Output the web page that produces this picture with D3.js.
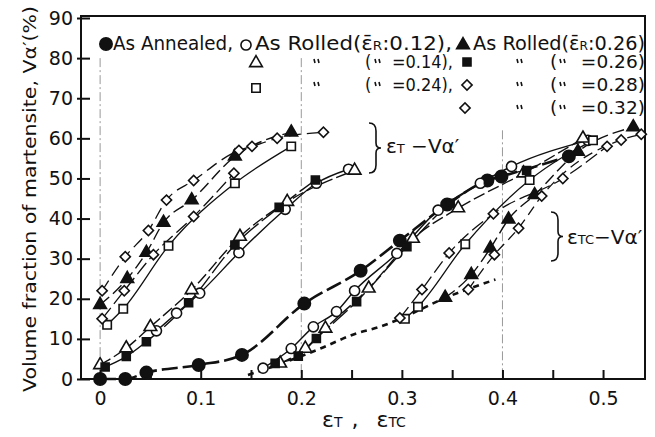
<!DOCTYPE html>
<meta charset="utf-8">
<style>
  body { margin: 0; background: #fff; }
  text { font-family: "DejaVu Sans", sans-serif; fill: #111; }
</style>
<body>
<script src="https://d3js.org/d3.v7.min.js"></script>
<script>

// ---- data (strain, volume %) ----
var annealed   = [[0,0],[0.025,0],[0.046,1.6],[0.098,3.5],[0.141,6],[0.203,18.8],[0.259,27],[0.298,34.5],[0.345,43.5],[0.385,49.5],[0.399,50.5],[0.466,55.5]];

// eps_T curves
var r12T   = [[0.056,12],[0.076,16.4],[0.099,21.4],[0.138,31.5],[0.184,42.3],[0.215,48.8],[0.247,52.3]];
var r14T   = [[0,3.5],[0.026,7.7],[0.05,13],[0.091,22.2],[0.139,35.5],[0.186,44.2],[0.253,52]];
var r26sqT = [[0.005,3],[0.026,5.6],[0.046,9.3],[0.088,19],[0.134,33.4],[0.178,42.8],[0.214,49.6]];
var r26trT = [[0,18.5],[0.027,25],[0.046,31.5],[0.063,39],[0.091,44.6],[0.134,55.5],[0.19,61.5]];
var r24T   = [[0.007,13.5],[0.023,17.5],[0.068,33.2],[0.134,48.8],[0.19,58]];
var r28T   = [[0.002,15],[0.024,22],[0.053,31],[0.093,40.5],[0.133,51.3]];
var r32T   = [[0.002,22],[0.025,30.5],[0.048,37],[0.066,44.6],[0.093,49.5],[0.138,57],[0.151,58],[0.176,60],[0.222,61.5]];

// eps_TC curves
var r12TC   = [[0.162,2.7],[0.19,7.6],[0.212,13],[0.235,16.8],[0.253,22],[0.295,31.3],[0.336,42.1],[0.378,48.8],[0.409,53],[0.485,59.5]];
var r14TC   = [[0.179,3.9],[0.204,7.6],[0.224,12.6],[0.267,22.6],[0.311,35],[0.356,42.6],[0.421,51.3],[0.48,60]];
var r26sqTC = [[0.174,3.9],[0.197,5.7],[0.215,10.1],[0.255,19.3],[0.305,33],[0.348,43.8],[0.386,49.6],[0.424,52]];
var r24TC   = [[0.303,15],[0.316,18],[0.363,33.6],[0.427,49.6],[0.49,59.5]];
var r28TC   = [[0.298,15.2],[0.32,22.3],[0.347,31.4],[0.391,41.2],[0.46,50],[0.504,58]];
var r26trTC = [[0.343,20.3],[0.369,26],[0.388,32.6],[0.406,39.8],[0.432,45.9],[0.475,56.7],[0.53,62.8]];
var r32TC   = [[0.366,22.3],[0.392,31],[0.416,37.6],[0.439,45.6],[0.518,59.6],[0.538,61]];
var startLine = [[0.147,1],[0.199,5.6],[0.219,7.6],[0.255,11.4],[0.278,13],[0.3,15.2],[0.343,20.2],[0.393,24.8]];

var yTicks = [0,10,20,30,40,50,60,70,80,90];
var xTicks = [0,0.05,0.1,0.15,0.2,0.25,0.3,0.35,0.4,0.45,0.5];
var gridX = [0, 0.2, 0.4];

// ---- layout ----
var W = 655, H = 437;
var x = d3.scaleLinear().domain([-0.019, 0.5417]).range([81, 645]);
var y = d3.scaleLinear().domain([0, 90.5]).range([379, 16]);

var svg = d3.select("body").append("svg")
    .attr("width", W).attr("height", H);

// faint dash-dot verticals
svg.selectAll(".grid").data(gridX).enter().append("line")
    .attr("x1", d => x(d)).attr("x2", d => x(d))
    .attr("y1", d => d == 0.4 ? y(62) : y(80)).attr("y2", y(0))
    .attr("stroke", "#999").attr("stroke-width", 1)
    .attr("stroke-dasharray", "9,3,2,3");

// frame
svg.append("rect")
    .attr("x", 81).attr("y", 16).attr("width", 564).attr("height", 363)
    .attr("fill", "none").attr("stroke", "#111").attr("stroke-width", 2);

// axes
var yAxis = svg.append("g").attr("transform", "translate(81,0)")
    .call(d3.axisLeft(y).tickValues(yTicks).tickSizeInner(-9).tickSizeOuter(0).tickPadding(8));
var xAxis = svg.append("g").attr("transform", "translate(0,379)")
    .call(d3.axisBottom(x).tickValues(xTicks).tickSizeInner(-9).tickSizeOuter(0).tickPadding(13)
      .tickFormat(d => { var s = d3.format(".1f")(d); return Math.round(d * 100) % 10 == 0 ? (d == 0 ? "0" : s) : ""; }));
[yAxis, xAxis].forEach(g => {
  g.select(".domain").remove();
  g.selectAll(".tick line").attr("stroke", "#111").attr("stroke-width", 2);
  g.selectAll(".tick text").style("font-size", "19px").attr("fill", "#111");
});
yAxis.selectAll(".tick line").attr("x1", -4);

// y label
svg.append("text")
    .attr("transform", "translate(29,199) rotate(-90)")
    .attr("text-anchor", "middle").attr("dominant-baseline", "central")
    .attr("textLength", 386).attr("lengthAdjust", "spacingAndGlyphs")
    .style("font-size", "18px")
    .text("Volume fraction of martensite, Vα′(%)");

// x label
var xl = svg.append("text").attr("x", 322).attr("y", 427).style("font-size", "22px");
xl.append("tspan").text("ε");
xl.append("tspan").style("font-size", "14px").text("T");
xl.append("tspan").attr("dx", 9).text(",");
xl.append("tspan").attr("dx", 18).text("ε");
xl.append("tspan").style("font-size", "14px").text("TC");

// ---- series ----
var line = d3.line().x(d => x(d[0])).y(d => y(d[1])).curve(d3.curveMonotoneX);

var series = [
  {d: startLine, m: null, w: 2.6, dash: "6,5"},
  {d: annealed,  m: "fcircle", w: 2.6, dash: "16,5"},
  {d: r12T,   m: "circle",  w: 1.4, dash: null},
  {d: r14T,   m: "tri",     w: 1.4, dash: "12,4"},
  {d: r26sqT, m: "fsquare", w: 1.4, dash: "20,4"},
  {d: r26trT, m: "ftri",    w: 1.4, dash: "12,5"},
  {d: r24T,   m: "square",  w: 1.3, dash: null},
  {d: r28T,   m: "diamond", w: 1.3, dash: "14,5"},
  {d: r32T,   m: "diamond", w: 1.3, dash: "12,6"},
  {d: r12TC,   m: "circle",  w: 1.4, dash: null},
  {d: r14TC,   m: "tri",     w: 1.4, dash: "12,4"},
  {d: r26sqTC, m: "fsquare", w: 1.4, dash: "20,4"},
  {d: r24TC,   m: "square",  w: 1.3, dash: null},
  {d: r28TC,   m: "diamond", w: 1.3, dash: "14,5"},
  {d: r26trTC, m: "ftri",    w: 1.4, dash: "12,5"},
  {d: r32TC,   m: "diamond", w: 1.3, dash: "10,6"}
];

svg.selectAll(".curve").data(series).enter().append("path")
    .attr("d", s => line(s.d))
    .attr("fill", "none").attr("stroke", "#111")
    .attr("stroke-width", s => s.w)
    .attr("stroke-dasharray", s => s.dash);

function marker(g, type, px, py) {
  var filled = type.charAt(0) == "f";
  var base = filled ? type.slice(1) : type;
  var sym, size, rot = 0;
  if (base == "circle") { sym = d3.symbolCircle; size = filled ? 120 : 80; }
  else if (base == "tri") { sym = d3.symbolTriangle; size = 70; }
  else if (base == "square") { sym = d3.symbolSquare; size = filled ? 64 : 70; }
  else { sym = d3.symbolSquare; size = 52; rot = 45; }
  g.append("path")
    .attr("d", d3.symbol().type(sym).size(size)())
    .attr("transform", "translate(" + px + "," + py + ") rotate(" + rot + ")")
    .attr("fill", filled ? "#111" : "#fff")
    .attr("stroke", "#111").attr("stroke-width", 1.6);
}

var mg = svg.append("g");
series.forEach(s => {
  if (!s.m) return;
  s.d.forEach(p => marker(mg, s.m, x(p[0]), y(p[1])));
});

// ---- legend ----
var legendText = [
  {x: 113, y: 50, len: 120, parts: ["As Annealed,"]},
  {x: 255, y: 50, len: 197, parts: ["As Rolled(", "ε̄", "R", ":0.12),"]},
  {x: 473, y: 50, len: 172, parts: ["As Rolled(", "ε̄", "R", ":0.26)"]},
  {x: 365, y: 68, len: 88, parts: ["(    =0.14),"]},
  {x: 550, y: 68, len: 95, parts: ["(    =0.26)"]},
  {x: 365, y: 91, len: 88, parts: ["(    =0.24),"]},
  {x: 550, y: 91, len: 95, parts: ["(    =0.28)"]},
  {x: 550, y: 114, len: 95, parts: ["(    =0.32)"]}
];
legendText.forEach(t => {
  var el = svg.append("text").attr("x", t.x).attr("y", t.y)
      .style("font-size", t.y == 50 ? "19px" : "17px")
      .style("white-space", "pre")
      .attr("textLength", t.len).attr("lengthAdjust", "spacingAndGlyphs");
  t.parts.forEach((p, i) => {
    var ts = el.append("tspan").text(p);
    if (i == 2) ts.style("font-size", "12px");
  });
});
var legendMarks = [
  ["fcircle", 106, 44], ["circle", 246, 45], ["ftri", 463, 45],
  ["tri", 256, 63], ["fsquare", 467, 62],
  ["square", 256, 88], ["diamond", 467, 85],
  ["diamond", 465, 108]
];
legendMarks.forEach(m => marker(svg, m[0], m[1], m[2]));

// ditto marks drawn as two small strokes
var dittos = [[317, 62], [520, 62], [317, 85], [520, 85], [520, 108],
              [378, 62], [563, 62], [378, 85], [563, 85], [563, 108]];
svg.selectAll(".ditto").data(dittos).enter().append("path")
    .attr("d", d => "M" + (d[0] - 3) + "," + (d[1] - 3) + " l1,4 M" + (d[0] + 1) + "," + (d[1] - 3) + " l1,4")
    .attr("stroke", "#111").attr("stroke-width", 1.6).attr("fill", "none");

// ---- brace annotations ----
function brace(x0, y0, y1) {
  var m = (y0 + y1) / 2, w = 7;
  return "M" + x0 + "," + y0 + " Q" + (x0 + w) + "," + y0 + " " + (x0 + w) + "," + (y0 + 8) +
    " L" + (x0 + w) + "," + (m - 5) + " Q" + (x0 + w) + "," + m + " " + (x0 + w + 5) + "," + m +
    " Q" + (x0 + w) + "," + m + " " + (x0 + w) + "," + (m + 5) +
    " L" + (x0 + w) + "," + (y1 - 8) + " Q" + (x0 + w) + "," + y1 + " " + x0 + "," + y1;
}
svg.append("path").attr("d", brace(369, 123, 173)).attr("fill", "none").attr("stroke", "#111").attr("stroke-width", 1.6);
svg.append("path").attr("d", brace(551, 212, 261)).attr("fill", "none").attr("stroke", "#111").attr("stroke-width", 1.6);

var a1 = svg.append("text").attr("x", 386).attr("y", 153).style("font-size", "20px");
a1.append("tspan").text("ε");
a1.append("tspan").style("font-size", "13px").text("T");
a1.append("tspan").text(" −Vα′");
var a2 = svg.append("text").attr("x", 567).attr("y", 244).style("font-size", "20px");
a2.append("tspan").text("ε");
a2.append("tspan").style("font-size", "13px").text("TC");
a2.append("tspan").text("−Vα′");

</script>
</body>
